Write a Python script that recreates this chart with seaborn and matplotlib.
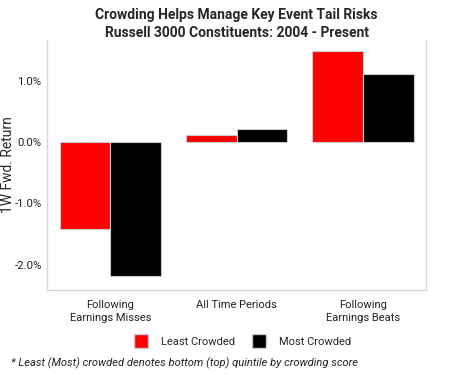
import matplotlib
matplotlib.use("Agg")
import matplotlib.pyplot as plt
import matplotlib.ticker as mtick
import seaborn as sns
import pandas as pd

# data
categories = ["Following\nEarnings Misses", "All Time Periods", "Following\nEarnings Beats"]
least_crowded = [-1.41, 0.11, 1.48]
most_crowded = [-2.19, 0.21, 1.11]
series = ["Least Crowded", "Most Crowded"]
colors = ["#ff0000", "#000000"]

df = pd.DataFrame({
    "category": categories * 2,
    "value": least_crowded + most_crowded,
    "group": [series[0]] * 3 + [series[1]] * 3,
})

sns.set_style("white")
plt.rcParams["font.family"] = ["Roboto", "DejaVu Sans"]

fig = plt.figure(figsize=(4.5, 3.75), dpi=100)
ax = fig.add_axes([0.105, 0.227, 0.842, 0.667])

sns.barplot(data=df, x="category", y="value", hue="group", palette=colors,
            saturation=1, width=0.8, edgecolor="#c8ccd2", linewidth=0.8,
            ax=ax, legend=False)

ax.set_ylim(-2.41, 1.67)
ax.set_xlim(-0.5, 2.5)
ax.set_yticks([-2, -1, 0, 1])
ax.yaxis.set_major_formatter(mtick.FuncFormatter(lambda v, p: f"{v:.1f}%"))
ax.set_xlabel("")
ax.set_ylabel("1W Fwd. Return", fontsize=10)
ax.yaxis.set_label_coords(-0.085, 0.5)
ax.tick_params(axis="y", length=2, color="#d0d8e0", labelsize=8.2, pad=2, colors="#222222")
ax.tick_params(axis="x", length=4, color="#d0d8e0", labelsize=8, pad=3, colors="#222222")
for t in ax.get_xticklabels():
    t.set_linespacing(1.4)
for s in ["left", "right", "bottom"]:
    ax.spines[s].set_color("#d0d8e0")
    ax.spines[s].set_linewidth(1.0)
ax.spines["top"].set_visible(False)

ax.set_title("Crowding Helps Manage Key Event Tail Risks\nRussell 3000 Constituents: 2004 - Present",
             fontsize=10, fontweight="bold", linespacing=1.35, pad=2)

handles = [plt.Line2D([], [], marker="s", linestyle="", markersize=10,
                      markerfacecolor=c, markeredgecolor="#c8ccd2") for c in colors]
fig.legend(handles, series, loc="center", bbox_to_anchor=(0.535, 0.088), ncol=2,
           frameon=False, fontsize=8, handletextpad=0.8, columnspacing=1.2)

fig.text(0.025, 0.032, "* Least (Most) crowded denotes bottom (top) quintile by crowding score",
         fontsize=8, style="italic", color="#222222", ha="left", va="center")

fig.savefig("out.png", dpi=100)
